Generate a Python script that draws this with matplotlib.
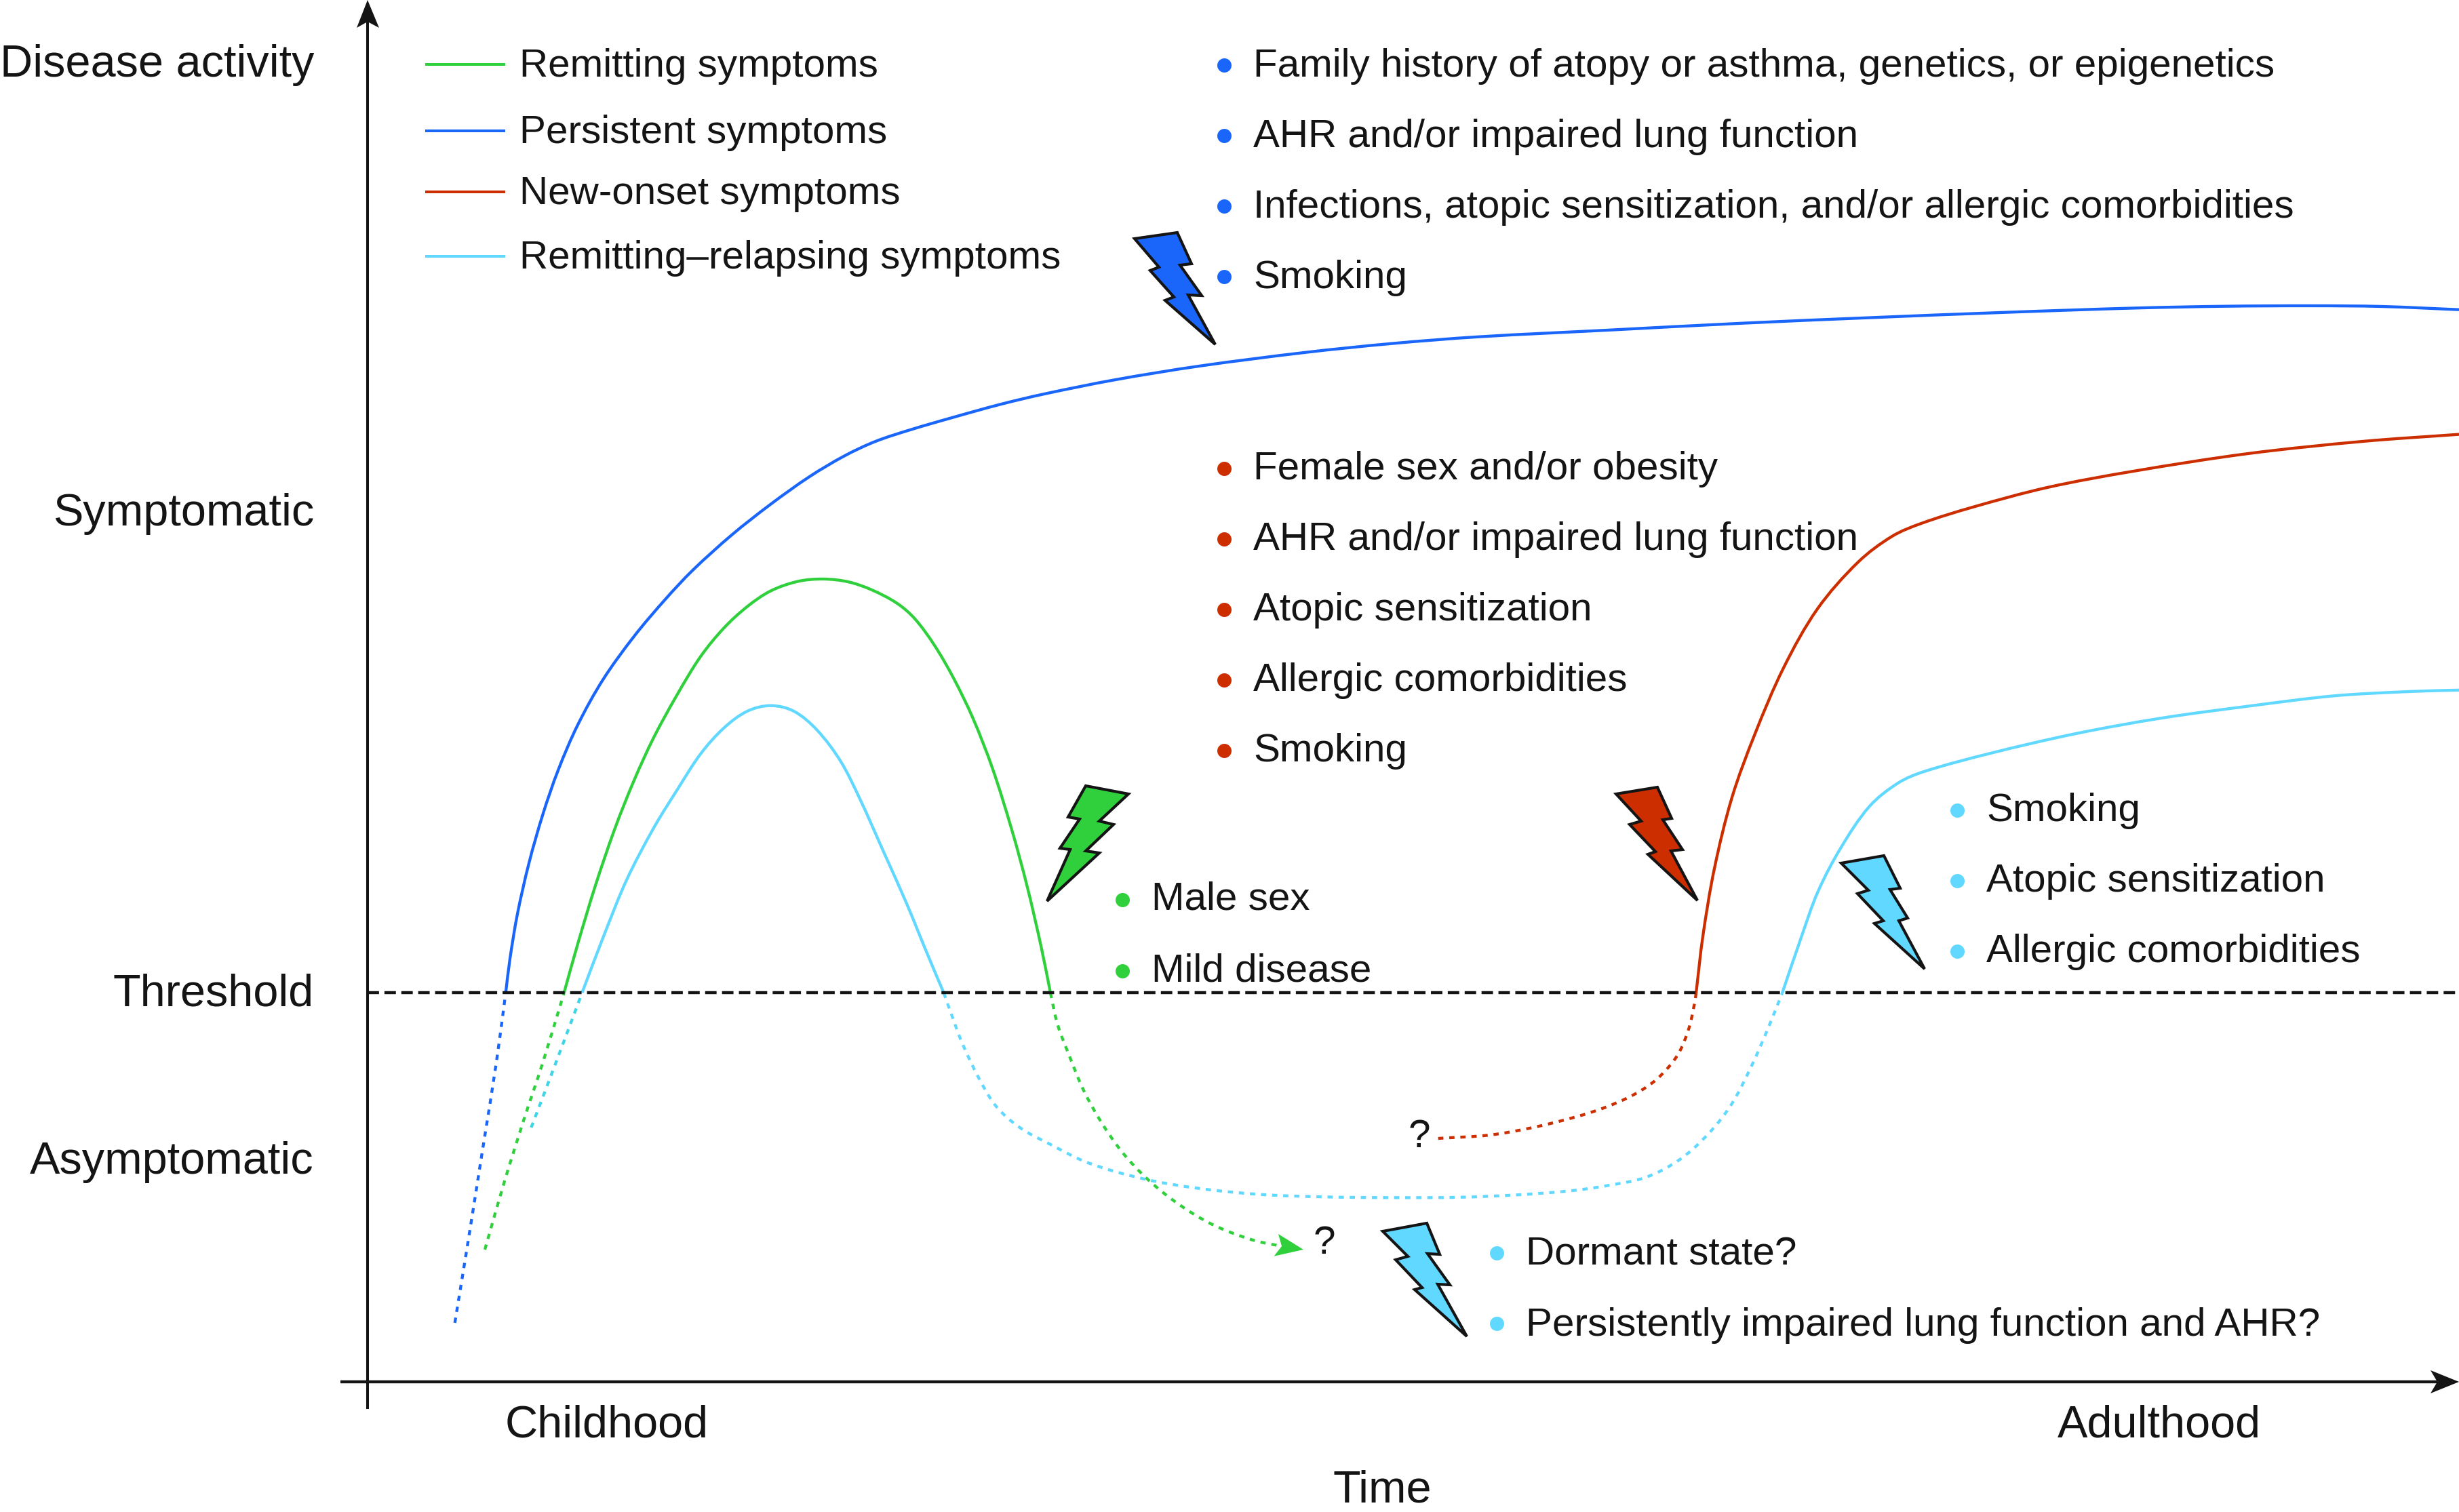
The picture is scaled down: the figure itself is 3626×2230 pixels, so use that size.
import math
import matplotlib
matplotlib.use('Agg')
import matplotlib.pyplot as plt
from matplotlib.path import Path
from matplotlib.patches import PathPatch, Polygon

plt.rcParams['font.family'] = ['Liberation Sans', 'DejaVu Sans']

GREEN = '#2fd03c'
BLUE = '#1a66fb'
RED = '#cc2e00'
CYAN = '#61d8ff'
CYAN_START = '#3ed6e6'
INK = '#141414'

threshold_y = 1464

blue_dash_x = [670.7, 690, 713.3, 731.7, 745.7]
blue_dash_y = [1951, 1832.5, 1685, 1568.4, 1464.3]
blue_x = [745.7, 752, 763, 780, 800.5, 823.4, 852, 889.4, 935.4, 981, 1021.5, 1079, 1136, 1193.7,
          1245.4, 1291, 1343, 1406, 1475, 1540, 1645, 1768, 1923, 2052, 2181, 2375, 2569, 2763,
          2957, 3150, 3280, 3409, 3512, 3626]
blue_y = [1464.3, 1414, 1348, 1273, 1201, 1135, 1069, 1002, 938, 884, 841, 789, 744, 703,
          672.3, 651, 633.7, 615.4, 596.4, 581, 560, 540, 520, 506.7, 496.7, 486.7, 476.7, 468.3,
          460.7, 454.3, 451.7, 451, 452, 456.7]

green_start_x = [715, 743.3, 773.3, 800, 831.7]
green_start_y = [1843, 1744.4, 1648.8, 1568.4, 1464.3]
green_x = [831.7, 852, 878, 906.7, 935.4, 964, 998.5, 1033, 1067.4, 1101.8, 1136.3, 1176.5, 1213.8,
           1251, 1285.5, 1322.8, 1348.7, 1377.4, 1406, 1434.8, 1463.5, 1492.2, 1515, 1535.3, 1549]
green_y = [1464.3, 1392, 1306, 1222, 1150, 1087.7, 1024.6, 968.4, 926.3, 894.7, 871.6, 857.5, 854,
           858.2, 870, 889.8, 912.3, 950.9, 1000, 1059.6, 1133.3, 1224.6, 1308.8, 1396.5, 1464.5]
green_end_x = [1549, 1559.4, 1578.6, 1597.7, 1623, 1655, 1693.4, 1738, 1789, 1846.4, 1891]
green_end_y = [1464.5, 1510.7, 1561.7, 1607.7, 1653.6, 1699.5, 1740.3, 1776, 1806.6, 1828.6, 1838.3]
green_head_x = [1922, 1885, 1890, 1878.6]
green_head_y = [1843, 1820, 1838, 1852.7]

red_dash_x = [2120.7, 2197, 2261, 2324.7, 2367.7, 2410, 2443.8, 2473.4, 2490, 2498.7, 2501]
red_dash_y = [1679, 1674, 1662.8, 1647, 1633, 1614, 1591, 1556.6, 1518, 1480, 1464.8]
red_x = [2501, 2511, 2528, 2554, 2588, 2630, 2680, 2740, 2790, 2833, 2908.9,
         3018.8, 3145.7, 3314.8, 3483.9, 3626]
red_y = [1464.8, 1381, 1281, 1176, 1082, 985, 898, 829, 791, 772, 748,
         719, 695, 669, 651, 640.6]

cyan_start_x = [783.3, 820, 858.3]
cyan_start_y = [1663, 1566.5, 1464.3]
cyan_up_x = [858.3, 889.4, 923.9, 964, 998.5, 1033, 1067.4, 1101.8, 1136.3, 1170.7, 1205, 1239.6,
             1268.3, 1302.8, 1337.2, 1366, 1391.7]
cyan_up_y = [1464.3, 1382.5, 1298, 1221, 1165, 1112, 1073.7, 1049, 1040.7, 1049, 1077, 1122.8,
             1179, 1256, 1333.3, 1403.5, 1464.5]
cyan_dash_x = [1391.7, 1400, 1419, 1444.6, 1470, 1505, 1546.7, 1604, 1687, 1770, 1859, 1954.8, 2050.5,
               2152.6, 2241.8, 2318.4, 2367.7, 2426.8, 2477.6, 2519.9, 2553.7, 2583.3, 2607, 2628]
cyan_dash_y = [1464.5, 1487.8, 1538.8, 1592.3, 1633, 1663.8, 1686.7, 1714.8, 1738.8, 1753, 1761.7, 1765.3,
               1766.3, 1765.8, 1762, 1756, 1749, 1736.4, 1709.7, 1671.4, 1628, 1571, 1517, 1464.8]
cyan_x = [2628, 2655.2, 2680.5, 2714.4, 2756.7, 2799, 2837, 2934.2, 3061, 3188, 3314.8, 3441.6,
          3551.6, 3626]
cyan_y = [1464.8, 1385, 1315.5, 1250.5, 1189.3, 1154.8, 1138, 1111.2, 1082, 1059, 1041.6, 1026.3,
          1020, 1017.8]

# lightning bolts
bolt_blue_x = [1673, 1736, 1757, 1740, 1772, 1752, 1792, 1718, 1731, 1696, 1709]
bolt_blue_y = [352, 343, 389, 391, 436, 435, 508, 443, 438, 399, 394]
bolt_green_x = [1601, 1664, 1621, 1642, 1601, 1621, 1544, 1578, 1563, 1592, 1575]
bolt_green_y = [1159, 1171, 1211, 1216, 1255, 1258, 1329, 1253, 1251, 1208, 1205]
bolt_red_x = [2383, 2444, 2465, 2452, 2481, 2464, 2503, 2430, 2441, 2403, 2420]
bolt_red_y = [1171, 1161, 1207, 1209, 1253, 1255, 1328, 1260, 1256, 1216, 1211]
bolt_cyan_x = [2715, 2778, 2802, 2787, 2813, 2800, 2838, 2764, 2777, 2739, 2755]
bolt_cyan_y = [1273, 1262, 1310, 1312, 1354, 1358, 1429, 1362, 1358, 1318, 1313]
bolt_dorm_x = [2039, 2104, 2123, 2105, 2138, 2120, 2163, 2086, 2097, 2058, 2076]
bolt_dorm_y = [1816, 1804, 1850, 1849, 1895, 1894, 1971, 1902, 1899, 1858, 1853]

legend_labels = ['Remitting symptoms', 'Persistent symptoms', 'New-onset symptoms',
                 'Remitting\u2013relapsing symptoms']
legend_line_y = [95, 193, 283, 378]
legend_text_y = [113, 211, 301, 396]

y_labels = ['Disease activity', 'Symptomatic', 'Threshold', 'Asymptomatic']
y_label_pos = [113, 775, 1484, 1731]

blue_items = ['Family history of atopy or asthma, genetics, or epigenetics',
              'AHR and/or impaired lung function',
              'Infections, atopic sensitization, and/or allergic comorbidities',
              'Smoking']
blue_items_y = [113, 217, 321, 425]
red_items = ['Female sex and/or obesity', 'AHR and/or impaired lung function', 'Atopic sensitization',
             'Allergic comorbidities', 'Smoking']
red_items_y = [707, 811, 915, 1019, 1123]
green_items = ['Male sex', 'Mild disease']
green_items_y = [1342, 1447]
cyan_items = ['Smoking', 'Atopic sensitization', 'Allergic comorbidities']
cyan_items_y = [1211, 1315, 1419]
dormant_items = ['Dormant state?', 'Persistently impaired lung function and AHR?']
dormant_items_y = [1866, 1970]


def unit(a, b):
    d = math.hypot(b[0] - a[0], b[1] - a[1])
    return (b[0] - a[0]) / d, (b[1] - a[1]) / d


def curve(xs, ys):
    # bezier segments through the read points, handles a third of each chord long
    pts = list(zip(xs, ys))
    verts = [pts[0]]
    codes = [Path.MOVETO]
    for i in range(len(pts) - 1):
        p1 = pts[i]
        p2 = pts[i + 1]
        t1 = unit(pts[max(i - 1, 0)], p2)
        t2 = unit(p1, pts[min(i + 2, len(pts) - 1)])
        h = math.hypot(p2[0] - p1[0], p2[1] - p1[1]) / 3
        verts += [(p1[0] + t1[0] * h, p1[1] + t1[1] * h), (p2[0] - t2[0] * h, p2[1] - t2[1] * h), p2]
        codes += [Path.CURVE4, Path.CURVE4, Path.CURVE4]
    return Path(verts, codes)


def draw(ax, xs, ys, color, dashed=False):
    style = (0, (1.8, 2.0)) if dashed else '-'
    ax.add_patch(PathPatch(curve(xs, ys), fill=False, edgecolor=color, lw=3.1, linestyle=style,
                           capstyle='butt', zorder=2))


def bolt(ax, xs, ys, color):
    ax.add_patch(Polygon(list(zip(xs, ys)), closed=True, facecolor=color, edgecolor=INK, lw=3,
                         joinstyle='miter', zorder=4))


def bullets(ax, items, ys, x_dot, x_text, color, drop=17):
    for label, y in zip(items, ys):
        ax.plot([x_dot], [y - drop], 'o', ms=15.1, mfc=color, mew=0, zorder=5)
        ax.text(x_text, y, label, fontsize=42, color=INK, va='baseline', ha='left')


fig = plt.figure(figsize=(36.26, 22.30), dpi=100)
ax = fig.add_axes([0, 0, 1, 1])
ax.set_xlim(0, 3626)
ax.set_ylim(2230, 0)
ax.axis('off')

draw(ax, blue_dash_x, blue_dash_y, BLUE, True)
draw(ax, blue_x, blue_y, BLUE)
draw(ax, green_start_x, green_start_y, GREEN, True)
draw(ax, green_x, green_y, GREEN)
draw(ax, green_end_x, green_end_y, GREEN, True)
draw(ax, red_dash_x, red_dash_y, RED, True)
draw(ax, red_x, red_y, RED)
draw(ax, cyan_start_x, cyan_start_y, CYAN_START, True)
draw(ax, cyan_up_x, cyan_up_y, CYAN)
draw(ax, cyan_dash_x, cyan_dash_y, CYAN, True)
draw(ax, cyan_x, cyan_y, CYAN)
ax.fill(green_head_x, green_head_y, color=GREEN, lw=0, zorder=3)

# threshold and the two axes
ax.plot([542, 3626], [threshold_y, threshold_y], color=INK, lw=3.2, linestyle=(0, (3.8, 1.8)), zorder=3)
ax.plot([542, 542], [30, 2078], color=INK, lw=2.9, solid_capstyle='butt', zorder=3)
ax.plot([502, 3600], [2038, 2038], color=INK, lw=3.2, solid_capstyle='butt', zorder=3)
ax.fill([542, 526, 542, 559], [0, 41, 32, 41], color=INK, lw=0, zorder=3)
ax.fill([3626, 3584, 3594, 3584], [2038, 2021, 2038, 2055], color=INK, lw=0, zorder=3)

bolt(ax, bolt_blue_x, bolt_blue_y, BLUE)
bolt(ax, bolt_green_x, bolt_green_y, GREEN)
bolt(ax, bolt_red_x, bolt_red_y, RED)
bolt(ax, bolt_cyan_x, bolt_cyan_y, CYAN)
bolt(ax, bolt_dorm_x, bolt_dorm_y, CYAN)

for label, y in zip(y_labels, y_label_pos):
    ax.text(463, y, label, fontsize=48, color=INK, ha='right', va='baseline')
ax.text(745, 2119, 'Childhood', fontsize=48, color=INK, va='baseline')
ax.text(3034, 2119, 'Adulthood', fontsize=48, color=INK, va='baseline')
ax.text(2038, 2215, 'Time', fontsize=48, color=INK, ha='center', va='baseline')

for label, ly, ty, c in zip(legend_labels, legend_line_y, legend_text_y, [GREEN, BLUE, RED, CYAN]):
    ax.plot([627, 745], [ly, ly], color=c, lw=2.9, solid_capstyle='butt')
    ax.text(766, ty, label, fontsize=42, color=INK, va='baseline')

bullets(ax, blue_items, blue_items_y, 1805, 1848, BLUE)
bullets(ax, red_items, red_items_y, 1805, 1848, RED, drop=16)
bullets(ax, green_items, green_items_y, 1655, 1698, GREEN, drop=15.5)
bullets(ax, cyan_items, cyan_items_y, 2886, 2929, CYAN, drop=16)
bullets(ax, dormant_items, dormant_items_y, 2207, 2250, CYAN, drop=18)

ax.text(1953, 1849, '?', fontsize=42, color=INK, ha='center', va='baseline')
ax.text(2093, 1692, '?', fontsize=42, color=INK, ha='center', va='baseline')

fig.savefig('out.png', dpi=100, facecolor='white')
